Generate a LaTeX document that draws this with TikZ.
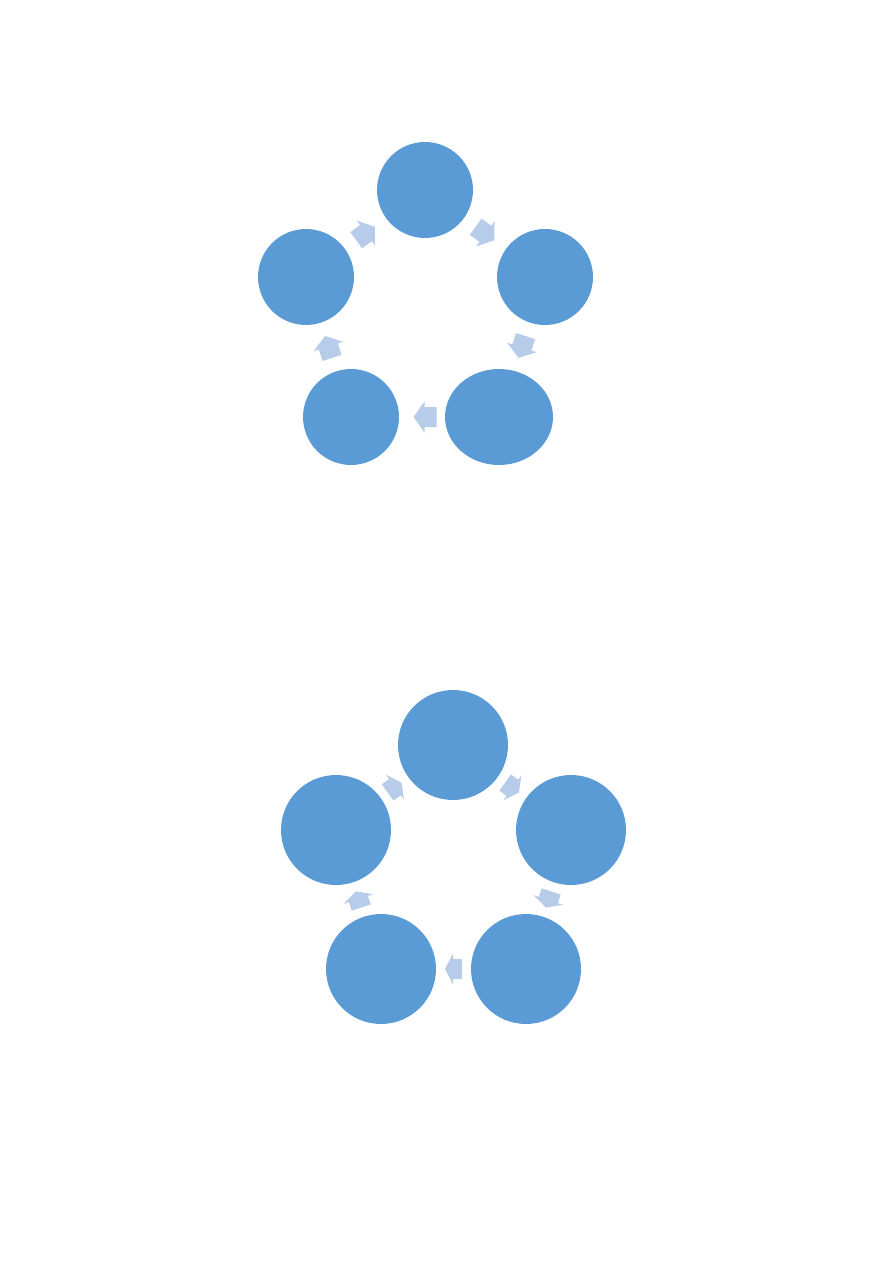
\documentclass[tikz,border=0pt]{standalone}
\usetikzlibrary{shapes.geometric}
\usetikzlibrary{calc}
\usepackage{xcolor}
\definecolor{stepblue}{HTML}{5B9BD5}
\definecolor{arrowblue}{HTML}{B7CCE9}

% block arrow: #1 centre, #2 angle, #3 length, #4 head length
\newcommand{\blockarrow}[4]{%
    \begin{scope}[shift={#1}, rotate=#2]
        \fill[arrowblue] (-#3/2,-10) -- (#3/2-#4,-10) -- (#3/2-#4,-15.5)
            -- (#3/2,0) -- (#3/2-#4,15.5) -- (#3/2-#4,10) -- (-#3/2,10) -- cycle;
    \end{scope}}

\begin{document}
\begin{tikzpicture}[x=0.02cm, y=-0.02cm,
        stepnode/.style={circle, fill=stepblue, draw=none, inner sep=0pt},
        small/.style={stepnode, minimum size=1.92cm},
        big/.style={stepnode, minimum size=2.2cm}]
    \useasboundingbox (0,0) rectangle (893,1263);

    % first cycle
    \node[small] (a1) at (425,190) {};
    \node[small] (a2) at (545,277) {};
    \node[stepnode, ellipse, minimum width=2.16cm, minimum height=1.92cm] (a3) at (499,417) {};
    \node[small] (a4) at (351,417) {};
    \node[small] (a5) at (306,277) {};

    \blockarrow{($(a1)!0.5!(a2)$)}{-36}{23}{11}
    \blockarrow{($(a2)!0.5!(a3)$)}{-108}{23}{11}
    \blockarrow{($(a3)!0.5!(a4)$)}{180}{23}{11}
    \blockarrow{($(a4)!0.5!(a5)$)}{108}{23}{11}
    \blockarrow{($(a5)!0.5!(a1)$)}{36}{23}{11}

    % second cycle
    \node[big] (b1) at (453,745) {};
    \node[big] (b2) at (571,830) {};
    \node[big] (b3) at (526,969) {};
    \node[big] (b4) at (381,969) {};
    \node[big] (b5) at (336,830) {};

    \blockarrow{($(b1)!0.5!(b2)$)}{-36}{17}{8}
    \blockarrow{($(b2)!0.5!(b3)$)}{-108}{17}{8}
    \blockarrow{($(b3)!0.5!(b4)$)}{180}{17}{8}
    \blockarrow{($(b4)!0.5!(b5)$)}{108}{17}{8}
    \blockarrow{($(b5)!0.5!(b1)$)}{36}{17}{8}
\end{tikzpicture}
\end{document}
